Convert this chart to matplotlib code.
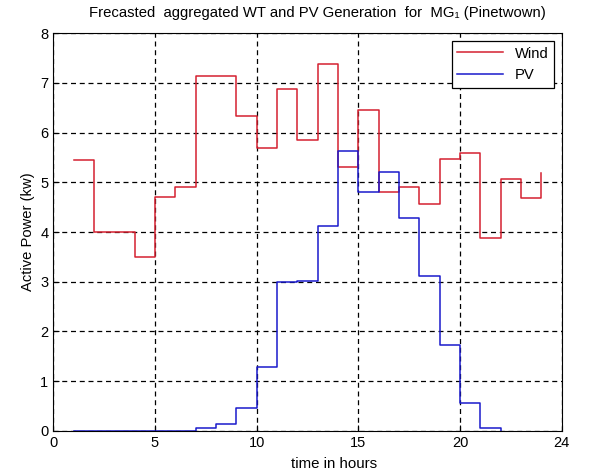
import matplotlib
matplotlib.use('Agg')
import matplotlib.pyplot as plt

plt.rcParams['font.family'] = ['Liberation Sans', 'DejaVu Sans']

# hourly forecasts (stairs, value held until next hour)
wind_hours = list(range(1, 25))
wind_kw = [5.45, 4.0, 4.01, 3.5, 4.7, 4.91, 7.13, 7.13, 6.33, 5.69, 6.87, 5.86,
           7.38, 5.31, 6.46, 4.81, 4.91, 4.56, 5.46, 5.59, 3.89, 5.07, 4.68, 5.18]
pv_hours = list(range(1, 23))
pv_kw = [0, 0, 0, 0, 0, 0, 0.05, 0.13, 0.46, 1.29, 2.99, 3.02,
         4.13, 5.63, 4.81, 5.21, 4.28, 3.11, 1.73, 0.56, 0.05, 0]

xticks = [0, 5, 10, 15, 20, 25]
xticklabels = ['0', '5', '10', '15', '20', '24']

fig = plt.figure(figsize=(5.92, 4.75), dpi=100)
ax = fig.add_axes([0.090, 0.093, 0.859, 0.837])

ax.step(wind_hours, wind_kw, where='post', color='#d42030', lw=1.1, label='Wind')
ax.step(pv_hours, pv_kw, where='post', color='#1a1acc', lw=1.1, label='PV')

ax.set_xlim(0, 25)
ax.set_ylim(0, 8)
ax.set_xticks(xticks)
ax.set_xticklabels(xticklabels)
ax.set_yticks(range(0, 9))
ax.tick_params(direction='in', labelsize=10.5, length=4)
ax.grid(True, color='black', linestyle=(0, (4, 3)), linewidth=0.9)

ax.set_xlabel('time in hours', fontsize=10.8)
ax.xaxis.set_label_coords(0.552, -0.066)
ax.set_ylabel('Active Power (kw)', fontsize=10.6)
ax.set_title('Frecasted  aggregated WT and PV Generation  for  MG\u2081 (Pinetwown)',
             fontsize=10.7, x=0.52, pad=12)

leg = ax.legend(loc='upper right', fontsize=10.6, fancybox=False, framealpha=1,
                edgecolor='black', borderaxespad=0.5, handlelength=3.1)
leg.get_frame().set_linewidth(0.9)

fig.savefig('out.png', dpi=100)
